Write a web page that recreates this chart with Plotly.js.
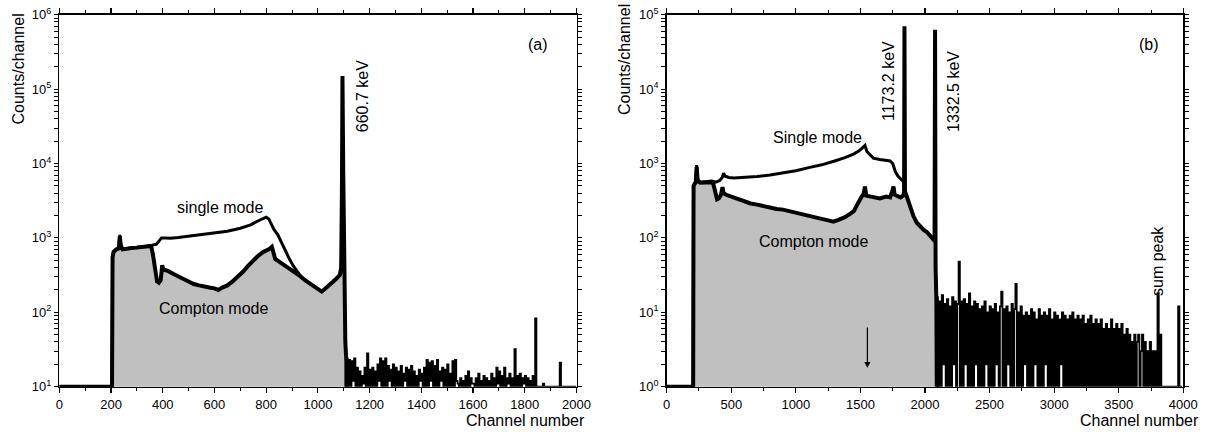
<!DOCTYPE html>
<html>
<head>
<meta charset="utf-8">
<script src="https://cdn.plot.ly/plotly-3.0.1.min.js"></script>
<style>html,body{margin:0;padding:0;background:#fff;}#chart{width:1211px;height:432px;}</style>
</head>
<body>
<div id="chart"></div>
<script>
// ---------- Panel (a): 137Cs ----------
const chA_single = [0, 204, 206, 210, 220, 230, 234, 238, 245, 260, 280, 300, 320, 340, 360, 375, 385, 395, 410, 430, 460, 500, 550, 600, 650, 700, 740, 770, 790, 800, 810, 820, 830, 845, 860, 875, 890, 905, 920, 935, 950];
const cntA_single = [10, 10, 550, 650, 700, 720, 1100, 800, 700, 720, 740, 750, 760, 780, 800, 820, 900, 1000, 1000, 990, 1010, 1050, 1100, 1150, 1230, 1350, 1500, 1700, 1850, 1900, 1800, 1500, 1300, 1100, 850, 650, 520, 420, 350, 300, 270];

const chA_compton = [0, 204, 206, 210, 220, 230, 234, 238, 245, 260, 280, 300, 320, 340, 355, 362, 370, 378, 385, 392, 398, 402, 408, 420, 440, 460, 480, 500, 520, 540, 560, 580, 600, 615, 630, 650, 670, 690, 710, 730, 750, 770, 790, 810, 822, 828, 835, 850, 870, 890, 910, 930, 950, 970, 990, 1005, 1015, 1030, 1050, 1070, 1085, 1090, 1093, 1095, 1098, 1102, 1106, 1110, 1111];
const cntA_compton = [10, 10, 550, 650, 700, 720, 1050, 780, 700, 720, 730, 740, 750, 770, 780, 600, 350, 260, 250, 270, 430, 380, 370, 360, 330, 300, 280, 260, 240, 230, 220, 215, 210, 200, 215, 230, 260, 300, 350, 420, 500, 580, 650, 700, 760, 600, 520, 480, 430, 380, 350, 310, 270, 240, 215, 195, 190, 210, 240, 280, 320, 400, 5000, 150000, 8000, 80, 40, 22, 1];

// counts per 5-channel bin from channel 1110 upward (values below 10 fall under the axis)
const noiseA_start = 1110, noiseA_bin = 5;
const noiseA_counts = [
  24,9,23,9,22,12,24,9,18,9,
  16,9,14,11,18,9,28,9,17,9,
  18,9,16,9,20,12,24,9,22,9,
  24,9,19,12,17,9,20,9,18,9,
  16,9,19,9,15,12,18,9,17,9,
  19,9,16,9,14,9,17,12,15,9,
  18,9,23,9,21,12,22,9,19,9,
  23,9,16,12,18,9,17,9,20,9,
  15,9,22,9,23,12,11,9,13,9,
  12,9,14,9,16,9,13,11,11,9,
  13,9,15,9,12,9,14,9,13,9,
  12,9,15,9,13,9,18,11,16,9,
  14,9,18,9,13,11,15,9,13,9,
  32,9,14,9,15,9,13,11,14,9,
  13,9,12,9,14,9,83,9,10,10,
  10,10,11,10,10,10,10,10,10,10,
  10,10,10,10,10,21,10,10,10,10
];

// ---------- Panel (b): 60Co ----------
const chB_single = [0, 205, 208, 215, 225, 232, 240, 260, 300, 350, 380, 410, 430, 440, 450, 480, 520, 600, 700, 800, 900, 1000, 1100, 1200, 1300, 1380, 1450, 1490, 1520, 1535, 1550, 1575, 1600, 1650, 1700, 1730, 1750, 1770, 1790, 1810, 1825, 1838];
const cntB_single = [1, 1, 500, 540, 560, 950, 600, 560, 570, 580, 560, 590, 650, 740, 680, 650, 640, 650, 670, 700, 740, 800, 880, 960, 1080, 1200, 1350, 1480, 1650, 1750, 1450, 1300, 1180, 1130, 1100, 1080, 1000, 780, 680, 620, 590, 560];

const chB_compton = [0, 205, 208, 215, 225, 232, 240, 260, 300, 340, 360, 375, 390, 405, 420, 432, 440, 460, 500, 550, 600, 650, 700, 750, 800, 850, 900, 950, 1000, 1050, 1100, 1150, 1200, 1250, 1290, 1330, 1380, 1420, 1450, 1470, 1490, 1510, 1525, 1535, 1545, 1570, 1600, 1650, 1700, 1730, 1745, 1756, 1765, 1790, 1810, 1830, 1838, 1841, 1845, 1859, 1885, 1911, 1937, 1963, 1990, 2014, 2040, 2066, 2074, 2078, 2082, 2088, 2092];
const cntB_compton = [1, 1, 500, 540, 560, 900, 580, 550, 560, 560, 540, 420, 330, 340, 380, 480, 400, 380, 360, 330, 310, 290, 280, 265, 255, 245, 240, 230, 220, 210, 200, 190, 180, 172, 165, 175, 190, 210, 230, 270, 320, 360, 390, 490, 370, 360, 350, 340, 360, 350, 420, 490, 380, 360, 350, 370, 400, 70000, 420, 360, 265, 195, 160, 140, 128, 120, 108, 95, 100, 63000, 40, 15, 0.5];

// counts per 10-channel bin from channel 2090 upward (0.5 = empty bin, below the axis)
const noiseB_start = 2090, noiseB_bin = 10;
const noiseB_counts = [
  16,0.5,14,0.5,17,2,13,0.5,15,0.5,
  12,0.5,16,2,14,0.5,13,48,0.5,14,
  0.5,15,2,13,0.5,18,0.5,12,0.5,14,
  2,13,0.5,11,0.5,12,0.5,14,2,10,
  0.5,12,0.5,11,0.5,13,2,10,0.5,12,
  19,0.5,11,0.5,12,2,10,0.5,13,0.5,
  11,24,0.5,10,0.5,12,0.5,9,2,10,
  0.5,9,0.5,11,0.5,10,2,8,0.5,11,
  0.5,9,0.5,10,2,9,0.5,11,0.5,8,
  0.5,10,0.5,9,0.5,8,2,10,0.5,9,
  0.5,8,0.5,9,0.5,10,0.5,8,0.5,9,
  0.5,8,0.5,9,0.5,7,0.5,8,0.5,9,
  0.5,7,0.5,8,0.5,7,0.5,8,0.5,6,
  0.5,7,0.5,6,0.5,8,0.5,6,0.5,7,
  0.5,6,0.5,7,0.5,5,0.5,6,0.5,5,
  0.5,4,0.5,5,0.5,4,5,0.5,3,5,
  0.5,4,0.5,3,0.5,4,0.5,3,0.5,3,
  0.5,18,0.5,5,1,1,1,1,1,1,
  1,1,1,1,1,1,1,12,0.5,1,
  1
];

// tick labels
const yTickValsA = [10, 100, 1000, 10000, 100000, 1000000];
const yTickTextA = ['10<sup>1</sup>', '10<sup>2</sup>', '10<sup>3</sup>', '10<sup>4</sup>', '10<sup>5</sup>', '10<sup>6</sup>'];
const yTickValsB = [1, 10, 100, 1000, 10000, 100000];
const yTickTextB = ['10<sup>0</sup>', '10<sup>1</sup>', '10<sup>2</sup>', '10<sup>3</sup>', '10<sup>4</sup>', '10<sup>5</sup>'];

const noiseA_ch = noiseA_counts.map((_, i) => noiseA_start + noiseA_bin * i);
const noiseB_ch = noiseB_counts.map((_, i) => noiseB_start + noiseB_bin * i);

// major ticks keep their labels; intermediate 2..9 ticks per decade get empty labels
function withMinor(vals, text) {
  const v = [], t = [];
  vals.forEach((m, i) => {
    v.push(m); t.push(text[i]);
    if (i < vals.length - 1) for (let k = 2; k <= 9; k++) { v.push(k * m); t.push(''); }
  });
  return {v, t};
}

const FONT = 'Liberation Sans, Arial, sans-serif';
const GREY = '#c0c0c0';

const traces = [
  {x: chA_compton, y: cntA_compton, xaxis: 'x', yaxis: 'y', type: 'scatter', mode: 'lines',
   fill: 'tozeroy', fillcolor: GREY, line: {color: '#000', width: 4}},
  {x: chA_single, y: cntA_single, xaxis: 'x', yaxis: 'y', type: 'scatter', mode: 'lines',
   line: {color: '#000', width: 3}},
  {x: noiseA_ch.concat([2000]), y: noiseA_counts.concat([10]), xaxis: 'x', yaxis: 'y', type: 'scatter', mode: 'lines',
   line: {color: '#000', width: 1.8, shape: 'hv'}},
  {x: chB_compton, y: cntB_compton, xaxis: 'x2', yaxis: 'y2', type: 'scatter', mode: 'lines',
   fill: 'tozeroy', fillcolor: GREY, line: {color: '#000', width: 4}},
  {x: chB_single, y: cntB_single, xaxis: 'x2', yaxis: 'y2', type: 'scatter', mode: 'lines',
   line: {color: '#000', width: 3}},
  {x: noiseB_ch, y: noiseB_counts, xaxis: 'x2', yaxis: 'y2', type: 'scatter', mode: 'lines',
   line: {color: '#000', width: 1.8, shape: 'hv'}}
];

function xAxis(domain, range, dtick, anchor) {
  return {
    domain: domain, range: range, anchor: anchor,
    tickmode: 'linear', tick0: 0, dtick: dtick,
    ticks: 'outside', ticklen: 5, tickwidth: 1.2, tickcolor: '#000',
    minor: {dtick: dtick / 2, tick0: 0, ticks: 'outside', ticklen: 3, tickwidth: 1, tickcolor: '#000', showgrid: false},
    showline: true, linewidth: 1.5, linecolor: '#000', mirror: 'ticks',
    showgrid: false, zeroline: false, fixedrange: true,
    tickfont: {family: FONT, size: 13, color: '#000'}
  };
}
function yAxis(domain, range, vals, text, anchor) {
  const tk = withMinor(vals, text);
  return {
    domain: domain, range: range, type: 'log', anchor: anchor,
    tickmode: 'array', tickvals: tk.v, ticktext: tk.t,
    ticks: 'outside', ticklen: 4, tickwidth: 1, tickcolor: '#000',
    showline: true, linewidth: 1.5, linecolor: '#000', mirror: 'ticks',
    showgrid: false, zeroline: false, fixedrange: true,
    tickfont: {family: FONT, size: 13, color: '#000'}
  };
}

const W = 1211, H = 432;
const px = v => v / W, py = v => 1 - v / H;
const yDom = [py(386.7), py(14.7)];

function txt(text, x, y, angle) {
  return {text: text, xref: 'paper', yref: 'paper', x: px(x), y: py(y), xanchor: 'center', yanchor: 'middle',
    showarrow: false, textangle: angle || 0, font: {family: FONT, size: 16, color: '#000'}};
}

const annotations = [
  txt('single mode', 220, 207),
  txt('Compton mode', 213, 308),
  txt('660.7 keV', 362.5, 96.7, -90),
  txt('(a)', 537.5, 44),
  txt('Channel number', 525, 420),
  txt('Counts/channel', 17.5, 69, -90),
  txt('Single mode', 817.5, 137),
  txt('Compton mode', 813, 241),
  txt('1173.2 keV', 888, 81, -90),
  txt('1332.5 keV', 953, 92, -90),
  txt('(b)', 1149, 44),
  txt('sum peak', 1157, 261, -90),
  txt('Channel number', 1139, 420),
  txt('Counts/channel', 625, 60, -90),
  {text: '', xref: 'x2', yref: 'y2', x: 1554, y: 0.25, ax: 0, ay: -42, showarrow: true,
   arrowhead: 2, arrowsize: 1, arrowwidth: 1.2, arrowcolor: '#000'}
];

const layout = {
  width: W, height: H,
  margin: {l: 0, r: 0, t: 0, b: 0},
  paper_bgcolor: '#fff', plot_bgcolor: '#fff',
  showlegend: false,
  xaxis: xAxis([px(59.3), px(576.5)], [0, 2000], 200, 'y'),
  yaxis: yAxis(yDom, [1, 6], yTickValsA, yTickTextA, 'x'),
  xaxis2: xAxis([px(666.7), px(1183.3)], [0, 4000], 500, 'y2'),
  yaxis2: yAxis(yDom, [0, 5], yTickValsB, yTickTextB, 'x2'),
  annotations: annotations
};

Plotly.newPlot('chart', traces, layout, {staticPlot: true, displayModeBar: false});
</script>
</body>
</html>
